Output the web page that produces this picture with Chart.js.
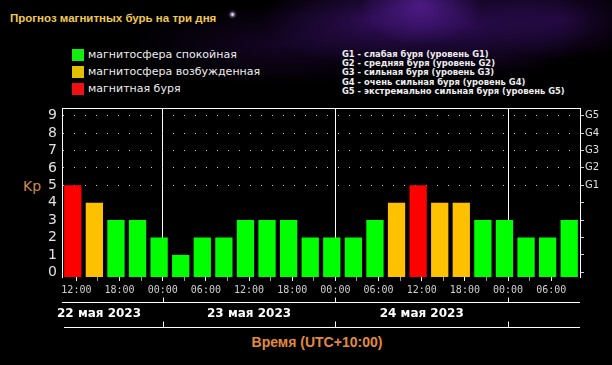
<!DOCTYPE html>
<html>
<head>
<meta charset="utf-8">
<script src="https://cdn.jsdelivr.net/npm/chart.js@4.4.0/dist/chart.umd.min.js"></script>
<style>
  html, body { margin: 0; padding: 0; }
  body {
    width: 612px; height: 365px; overflow: hidden; position: relative;
    background-color: #000;
    background-image:
      radial-gradient(ellipse 60px 40px at 420px 5px, rgba(110, 40, 190, 0.55), transparent),
      radial-gradient(ellipse 110px 45px at 370px 20px, rgba(70, 20, 130, 0.6), transparent),
      radial-gradient(ellipse 120px 55px at 470px 25px, rgba(75, 20, 140, 0.55), transparent),
      radial-gradient(ellipse 80px 40px at 560px 20px, rgba(60, 15, 110, 0.5), transparent),
      radial-gradient(ellipse 150px 40px at 280px 45px, rgba(45, 10, 80, 0.45), transparent);
  }
  canvas { position: absolute; left: 0; top: 0; }
  .title { position: absolute; left: 10px; top: 12px; font: bold 11.5px "Liberation Sans", sans-serif; color: #f0c850; white-space: nowrap; }
  .star { position: absolute; left: 227px; top: 9px; width: 11px; height: 11px;
    background: radial-gradient(circle, #fff 0, rgba(230,220,255,0.8) 1px, rgba(180,160,255,0.2) 3px, transparent 5px); }
  .legend { position: absolute; left: 72px; top: 49px; font: 11px "DejaVu Sans", sans-serif; color: #eee; }
  .legend div { height: 17px; line-height: 12px; white-space: nowrap; }
  .legend span { display: inline-block; width: 12px; height: 12px; vertical-align: top; margin-right: 4px; }
  .glegend { position: absolute; left: 342px; top: 50px; font: bold 8.4px "DejaVu Sans", sans-serif; color: #eee; line-height: 9.2px; white-space: nowrap; }
  .kp { position: absolute; left: 23px; top: 178px; font: 14px "DejaVu Sans", sans-serif; color: #d0884a; }
  .xtitle { position: absolute; left: 0; width: 634px; top: 334px; text-align: center; font: bold 14px "Liberation Sans", sans-serif; color: #e38b3d; }
</style>
</head>
<body>
<div class="title">Прогноз магнитных бурь на три дня</div>
<div class="star"></div>
<div class="legend" id="legend"></div>
<div class="glegend" id="glegend"></div>
<div class="kp">Kp</div>
<div class="xtitle">Время (UTC+10:00)</div>
<canvas id="chart" width="612" height="365"></canvas>
<script>
// Kp index per 3-hour interval, starting 22 May 2023 10:00 (UTC+10)
const kpValues = [5, 4, 3, 3, 2, 1, 2, 2, 3, 3, 3, 2, 2, 2, 3, 4, 5, 4, 4, 3, 3, 2, 2, 3];
const hourLabels = ["12:00", "18:00", "00:00", "06:00", "12:00", "18:00", "00:00", "06:00", "12:00", "18:00", "00:00", "06:00"];
const dayLabels = ["22 мая 2023", "23 мая 2023", "24 мая 2023"];
const kpTicks = [0, 1, 2, 3, 4, 5, 6, 7, 8, 9];
const stormLabels = ["G1", "G2", "G3", "G4", "G5"];
const stormNames = [
  "G1 - слабая буря (уровень G1)",
  "G2 - средняя буря (уровень G2)",
  "G3 - сильная буря (уровень G3)",
  "G4 - очень сильная буря (уровень G4)",
  "G5 - экстремально сильная буря (уровень G5)",
];
const legendItems = [
  { label: "магнитосфера спокойная", color: "#11ee11" },
  { label: "магнитосфера возбужденная", color: "#e2c000" },
  { label: "магнитная буря", color: "#ee1111" },
];

const X_MIN = 10, X_MAX = 82;   // hours from 22 May 00:00
const Y_MIN = -0.27, Y_MAX = 9.44;
const STORM_KP = 5;

document.getElementById("legend").innerHTML = legendItems
  .map((it) => `<div><span style="background:${it.color}"></span>${it.label}</div>`).join("");
document.getElementById("glegend").innerHTML = stormNames.join("<br>");

function barColor(v) {
  if (v >= STORM_KP) return "#ff0000";
  if (v === 4) return "#ffc000";
  return "#00ff00";
}

const barPoints = kpValues.map((v, i) => ({ x: X_MIN + 1.5 + 3 * i, y: v }));
// one tick every 3 hours, labelled every 6 hours
const xTickValues = [];
hourLabels.forEach((_, i) => {
  xTickValues.push(12 + 6 * i);
  if (i < hourLabels.length - 1) xTickValues.push(15 + 6 * i);
});

const dayFrame = {
  id: "dayFrame",
  afterDraw(chart) {
    const { ctx, chartArea: a, scales: { x } } = chart;
    const y1 = a.bottom + 25.5, y2 = a.bottom + 50.5;
    ctx.save();
    ctx.strokeStyle = "#fff";
    ctx.lineWidth = 1;
    ctx.beginPath();
    ctx.moveTo(a.left, a.top + 0.5); ctx.lineTo(a.right, a.top + 0.5);
    ctx.moveTo(a.left, y1); ctx.lineTo(a.right, y1);
    ctx.moveTo(a.left + 2, y2); ctx.lineTo(a.right, y2);
    dayLabels.forEach((_, i) => {
      const px = Math.round(x.getPixelForValue(24 * (i + 1))) + 0.5;
      ctx.moveTo(px, y1 - 5); ctx.lineTo(px, y1);
      ctx.moveTo(px, y2 - 6); ctx.lineTo(px, y2);
    });
    ctx.stroke();

    ctx.fillStyle = "#fff";
    ctx.font = "bold 12px 'DejaVu Sans'";
    ctx.textAlign = "center";
    ctx.textBaseline = "middle";
    dayLabels.forEach((label, i) => {
      const w = ctx.measureText(label).width;
      const cx = Math.max(x.getPixelForValue(24 * i + 12), a.left - 5 + w / 2);
      ctx.fillText(label, cx, a.bottom + 37);
    });
    ctx.restore();
  },
};

new Chart(document.getElementById("chart"), {
  type: "bar",
  data: {
    datasets: [{
      data: barPoints,
      backgroundColor: kpValues.map(barColor),
      base: Y_MIN,
      barPercentage: 0.8,
      categoryPercentage: 1,
      borderWidth: 0,
    }],
  },
  options: {
    responsive: false,
    animation: false,
    devicePixelRatio: 1,
    layout: { padding: { top: 108, left: 0, right: 0, bottom: 0 } },
    plugins: { legend: { display: false }, tooltip: { enabled: false } },
    scales: {
      x: {
        type: "linear",
        min: X_MIN,
        max: X_MAX,
        offset: false,
        afterBuildTicks: (s) => { s.ticks = xTickValues.map((v) => ({ value: v })); },
        afterFit: (s) => { s.height = 88; },
        border: { display: false },
        grid: {
          offset: false,
          color: (c) => (c.tick && c.tick.value % 24 === 0 ? "#ffffff" : "rgba(0,0,0,0)"),
          tickColor: (c) => (c.tick && (c.tick.value - 12) % 6 === 0 ? "#ffffff" : "#999999"),
          tickLength: 4,
        },
        ticks: {
          autoSkip: false,
          maxRotation: 0,
          padding: 3,
          color: "#d0d0d0",
          font: { family: "DejaVu Sans Mono", size: 10 },
          callback: (v) => ((v - 12) % 6 === 0 ? hourLabels[(v - 12) / 6] : ""),
        },
      },
      y: {
        position: "left",
        min: Y_MIN,
        max: Y_MAX,
        afterBuildTicks: (s) => { s.ticks = kpTicks.map((v) => ({ value: v })); },
        afterFit: (s) => { s.width = 62; },
        border: { display: true, color: "#ffffff", width: 1, dash: [1, 10] },
        grid: {
          drawTicks: false,
          color: (c) => (c.tick && c.tick.value >= STORM_KP ? "#cccccc" : "rgba(0,0,0,0)"),
        },
        ticks: {
          autoSkip: false,
          padding: 5,
          color: "#e0e0e0",
          font: { family: "DejaVu Sans", size: 14 },
        },
      },
      g: {
        position: "right",
        min: Y_MIN,
        max: Y_MAX,
        afterBuildTicks: (s) => { s.ticks = kpTicks.map((v) => ({ value: v })); },
        afterFit: (s) => { s.width = 32; },
        border: { display: true, color: "#ffffff", width: 1 },
        grid: { drawOnChartArea: false, tickLength: 4, tickColor: "#cccccc" },
        ticks: {
          autoSkip: false,
          padding: 1,
          color: "#e0e0e0",
          font: { family: "DejaVu Sans", size: 10 },
          callback: (v) => (v >= STORM_KP ? stormLabels[v - STORM_KP] : ""),
        },
      },
    },
  },
  plugins: [dayFrame],
});
</script>
</body>
</html>
